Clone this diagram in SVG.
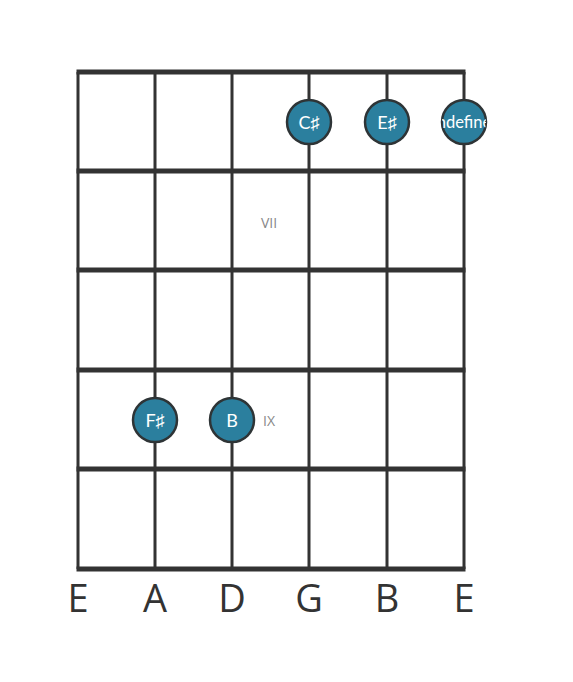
<svg xmlns="http://www.w3.org/2000/svg" width="573" height="682" viewBox="0 0 573 682">
<style>
.fret{stroke:#333;stroke-width:5;fill:none}
.str{stroke:#333;stroke-width:3;fill:none}
.dot{fill:#2b7f9e;stroke:#2e3436;stroke-width:2.5}
.note{font-family:Lato,"Open Sans",sans-serif;font-size:18px;fill:#fff;text-anchor:middle;dominant-baseline:central}
.pos{font-family:"Open Sans",sans-serif;font-size:14px;fill:#888;dominant-baseline:central}
.sname{font-family:"Open Sans",sans-serif;font-size:38px;fill:#333;text-anchor:middle}
</style>
<defs>
<clipPath id="c6"><circle cx="464" cy="122" r="22"/></clipPath>
</defs>
<rect width="573" height="682" fill="#fff"/>
<g id="connectors">
<line class="str" x1="78" y1="72" x2="78" y2="569"/>
<line class="str" x1="155" y1="72" x2="155" y2="569"/>
<line class="str" x1="232" y1="72" x2="232" y2="569"/>
<line class="str" x1="309" y1="72" x2="309" y2="569"/>
<line class="str" x1="387" y1="72" x2="387" y2="569"/>
<line class="str" x1="464" y1="72" x2="464" y2="569"/>
<line class="fret" x1="76.5" y1="72" x2="465.5" y2="72"/>
<line class="fret" x1="76.5" y1="171" x2="465.5" y2="171"/>
<line class="fret" x1="76.5" y1="270" x2="465.5" y2="270"/>
<line class="fret" x1="76.5" y1="370" x2="465.5" y2="370"/>
<line class="fret" x1="76.5" y1="469" x2="465.5" y2="469"/>
<line class="fret" x1="76.5" y1="569" x2="465.5" y2="569"/>
</g>
<g id="pos-vii"><text class="pos" x="261" y="222">VII</text></g>
<g id="pos-ix"><text class="pos" x="263" y="420">IX</text></g>
<g id="n-csharp"><circle class="dot" cx="309" cy="122" r="22"/><text class="note" x="309" y="122">C♯</text></g>
<g id="n-esharp"><circle class="dot" cx="387" cy="122" r="22"/><text class="note" x="387" y="122">E♯</text></g>
<g id="n-undef"><circle class="dot" cx="464" cy="122" r="22"/><text class="note" x="464" y="122" style="font-size:16.5px" clip-path="url(#c6)">undefined</text></g>
<g id="n-fsharp"><circle class="dot" cx="155" cy="420" r="22"/><text class="note" x="155" y="420">F♯</text></g>
<g id="n-b"><circle class="dot" cx="232" cy="420" r="22"/><text class="note" x="232" y="420">B</text></g>
<g id="strings">
<text class="sname" x="78" y="612">E</text>
<text class="sname" x="155" y="612">A</text>
<text class="sname" x="232" y="612">D</text>
<text class="sname" x="309" y="612">G</text>
<text class="sname" x="387" y="612">B</text>
<text class="sname" x="464" y="612">E</text>
</g>
</svg>
